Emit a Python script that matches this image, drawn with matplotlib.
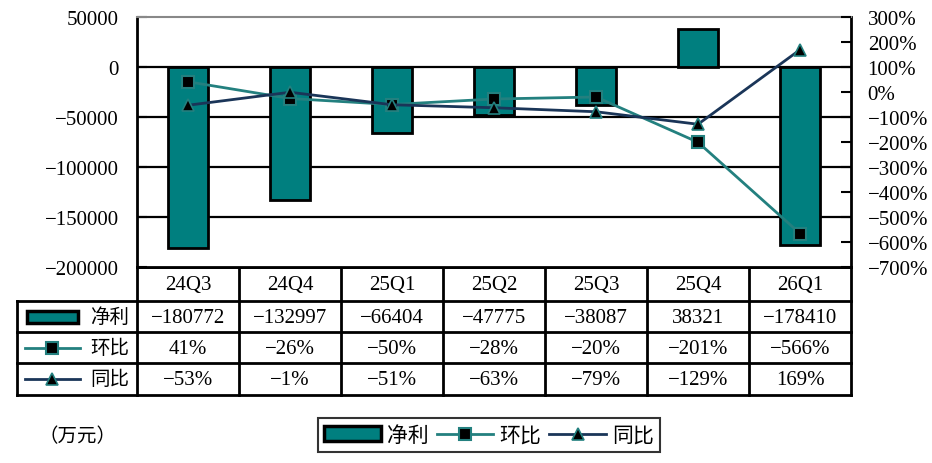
import matplotlib
matplotlib.use("Agg")
import matplotlib.pyplot as plt
from matplotlib.patches import Rectangle
from matplotlib.lines import Line2D
from matplotlib.ticker import FuncFormatter, FixedLocator

categories = ["24Q3", "24Q4", "25Q1", "25Q2", "25Q3", "25Q4", "26Q1"]
net_profit = [-180772, -132997, -66404, -47775, -38087, 38321, -178410]
qoq = [41, -26, -50, -28, -20, -201, -566]
yoy = [-53, -1, -51, -63, -79, -129, 169]
series_names = ["净利", "环比", "同比"]
unit_label = "（万元）"

BAR_C = "#007F7F"
QOQ_C = "#23807F"
YOY_C = "#1A3558"
NUM_FONT = ["Liberation Serif", "Noto Sans CJK SC"]
CJK_FONT = ["Noto Sans CJK SC", "DejaVu Sans"]
FS = 15

W, H = 932, 464
fig = plt.figure(figsize=(W / 100, H / 100), dpi=100)

# overlay axes in pixel coordinates for the data table
tax = fig.add_axes([0, 0, 1, 1])
tax.set_xlim(0, W)
tax.set_ylim(H, 0)
tax.axis("off")

ax = fig.add_axes([137 / W, (H - 268) / H, 714 / W, 250 / H])
x = list(range(len(categories)))
ax.set_xlim(-0.5, len(categories) - 0.5)
ax.set_ylim(-200000, 50000)
yt = list(range(-200000, 50001, 50000))
ax.yaxis.set_major_locator(FixedLocator(yt))
ax.yaxis.set_major_formatter(FuncFormatter(lambda v, p: f"{int(v)}".replace("-", "\u2212")))
for v in yt[1:-1]:
    ax.axhline(v, color="black", lw=1.6, zorder=1)
ax.bar(x, net_profit, width=0.4, color=BAR_C, edgecolor="black", linewidth=2, zorder=2)
ax.set_xticks([])
ax.spines["top"].set_color("#888888")
ax.spines["top"].set_linewidth(1.5)
for s in ["left", "right", "bottom"]:
    ax.spines[s].set_color("black")
    ax.spines[s].set_linewidth(2)
ax.tick_params(axis="y", direction="in", length=7, width=1.5, pad=13, labelsize=FS)
for t in ax.get_yticklabels():
    t.set_fontfamily(NUM_FONT)

ax2 = ax.twinx()
ax2.set_ylim(-700, 300)
pt = list(range(-700, 301, 100))
ax2.yaxis.set_major_locator(FixedLocator(pt))
ax2.yaxis.set_major_formatter(FuncFormatter(lambda v, p: f"{int(v)}%".replace("-", "\u2212")))
ax2.tick_params(axis="y", direction="in", length=7, width=1.5, pad=12, labelsize=FS)
for t in ax2.get_yticklabels():
    t.set_fontfamily(NUM_FONT)
for s in ax2.spines.values():
    s.set_visible(False)
qoq_style = dict(color=QOQ_C, lw=2, marker="s", ms=8, mfc="black", mec=QOQ_C, mew=1.5)
yoy_style = dict(color=YOY_C, lw=2, marker="^", ms=9, mfc="black", mec=QOQ_C, mew=1.2)
ax2.plot(x, qoq, zorder=3, **qoq_style)
ax2.plot(x, yoy, zorder=4, **yoy_style)

# ---- data table ----
fig.canvas.draw()
def px(i):
    return ax.transData.transform((i, 0))[0]
bounds = [px(i - 0.5) for i in range(len(categories) + 1)]
centers = [px(i) for i in x]
rows = [268, 302, 333, 364, 396]
left = 17
lw = 2
tax.plot([bounds[0], bounds[-1]], [rows[0], rows[0]], color="black", lw=lw)
for r in rows[1:]:
    tax.plot([left, bounds[-1]], [r, r], color="black", lw=lw)
for b in bounds:
    tax.plot([b, b], [rows[0], rows[-1]], color="black", lw=lw)
tax.plot([left, left], [rows[1], rows[-1]], color="black", lw=lw)

def rc(k):
    return (rows[k] + rows[k + 1]) / 2

for c, lab in zip(centers, categories):
    tax.text(c, rc(0) + 1, lab, ha="center", va="center", fontsize=FS, family=NUM_FONT)
fmt_net = [f"{v}".replace("-", "\u2212") for v in net_profit]
fmt_qoq = [f"{v}%".replace("-", "\u2212") for v in qoq]
fmt_yoy = [f"{v}%".replace("-", "\u2212") for v in yoy]
for k, vals in enumerate([fmt_net, fmt_qoq, fmt_yoy], start=1):
    for c, s in zip(centers, vals):
        tax.text(c, rc(k) + 1, s, ha="center", va="center", fontsize=FS, family=NUM_FONT)
    tax.text(110, rc(k), series_names[k - 1], ha="center", va="center", fontsize=14,
             family=CJK_FONT)
# row symbols
tax.add_patch(Rectangle((27, rc(1) - 6), 51, 12, facecolor=BAR_C, edgecolor="black", lw=2.5))
tax.plot([25, 80], [rc(2), rc(2)], color=QOQ_C, lw=2)
tax.plot([52], [rc(2)], marker="s", ms=8, mfc="black", mec=QOQ_C, mew=1.5, ls="none")
tax.plot([25, 80], [rc(3), rc(3)], color=YOY_C, lw=2)
tax.plot([52], [rc(3)], marker="^", ms=9, mfc="black", mec=QOQ_C, mew=1.2, ls="none")

# ---- bottom legend ----
handles = [
    Rectangle((0, 0), 1, 1, facecolor=BAR_C, edgecolor="black", lw=2.5),
    Line2D([], [], **qoq_style),
    Line2D([], [], **yoy_style),
]
leg = fig.legend(handles, series_names, loc="center", bbox_to_anchor=(489 / W, 1 - 436 / H),
                 ncol=3, frameon=True, fancybox=False, edgecolor="black",
                 handlelength=2.7, handletextpad=0.3, columnspacing=0.4, borderpad=0.3,
                 prop={"family": CJK_FONT, "size": 15})
leg.get_frame().set_linewidth(1.5)

fig.text(77 / W, 1 - 437 / H, unit_label, ha="center", va="center", fontsize=14, family=CJK_FONT)

fig.savefig("out.png", dpi=100)
